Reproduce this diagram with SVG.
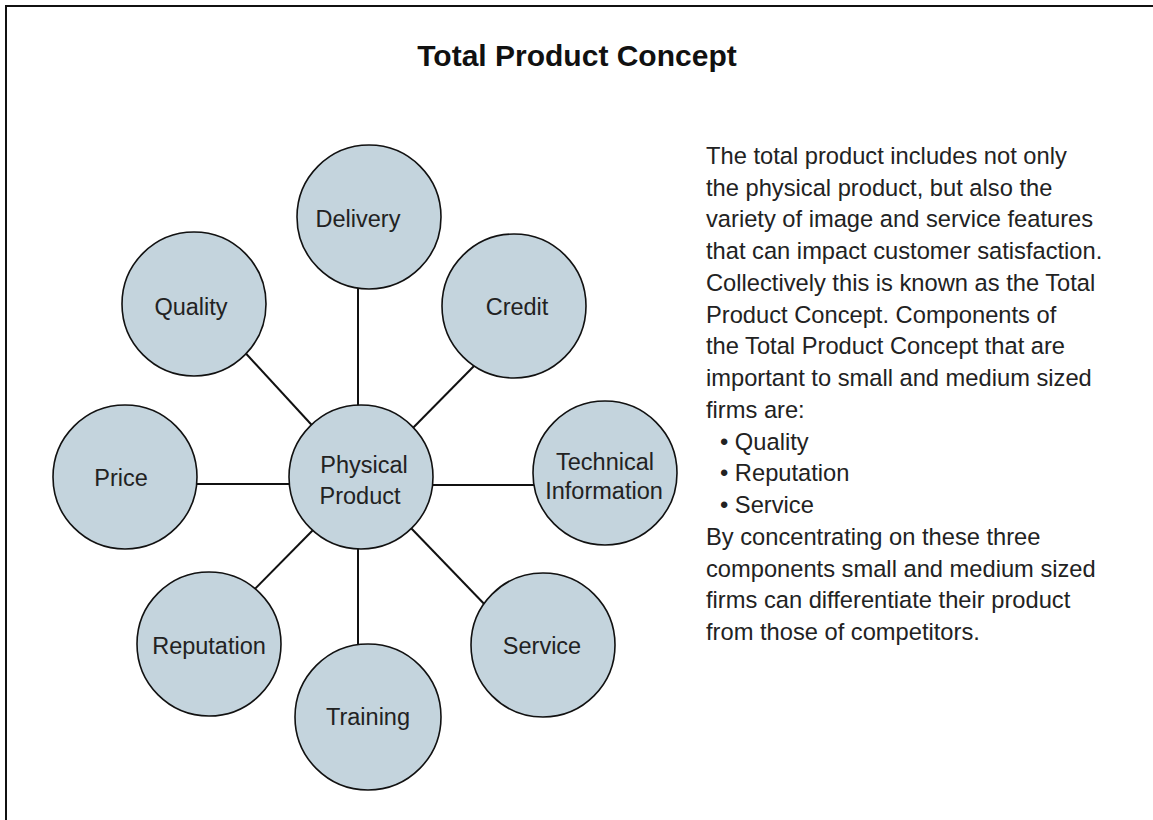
<svg xmlns="http://www.w3.org/2000/svg" width="1153" height="820" viewBox="0 0 1153 820">
<style>
.bg{fill:#fff}
.frame{fill:none;stroke:#111;stroke-width:2}
.node circle{fill:#c4d4dd;stroke:#111;stroke-width:1.6}
.node text,.para{font-family:"Liberation Sans",Arial,sans-serif;font-size:23.5px;fill:#222}
.para{font-size:23.7px}
.node text{text-anchor:middle}
.title{font-family:"Liberation Sans",Arial,sans-serif;font-size:30px;font-weight:bold;fill:#111;text-anchor:middle}
#connectors line{stroke:#111;stroke-width:2}
</style>
<rect class="bg" x="0" y="0" width="1153" height="820"/>
<path class="frame" d="M6,820 V6 H1153"/>
<text class="title" x="577" y="66">Total Product Concept</text>
<g id="connectors">
<line x1="358" y1="280" x2="358" y2="420"/>
<line x1="358" y1="535" x2="358" y2="655"/>
<line x1="185" y1="484" x2="300" y2="484"/>
<line x1="420" y1="485" x2="545" y2="485"/>
<line x1="240" y1="347" x2="320" y2="434"/>
<line x1="475" y1="365" x2="405" y2="436"/>
<line x1="250" y1="594" x2="315" y2="528"/>
<line x1="490" y1="610" x2="410" y2="527"/>
</g>
<g id="delivery" class="node"><circle cx="369" cy="217" r="72"/><text x="358" y="227">Delivery</text></g>
<g id="quality" class="node"><circle cx="194" cy="304" r="72"/><text x="191" y="315">Quality</text></g>
<g id="credit" class="node"><circle cx="514" cy="306" r="72"/><text x="517" y="315">Credit</text></g>
<g id="price" class="node"><circle cx="125" cy="477" r="72"/><text x="121" y="486">Price</text></g>
<g id="physical" class="node"><circle cx="361" cy="477" r="72"/><text x="364" y="473">Physical</text><text x="360" y="504">Product</text></g>
<g id="technical" class="node"><circle cx="605" cy="473" r="72"/><text x="605" y="470">Technical</text><text x="604" y="499">Information</text></g>
<g id="reputation" class="node"><circle cx="209" cy="644" r="72"/><text x="209" y="654">Reputation</text></g>
<g id="service" class="node"><circle cx="543" cy="645" r="72"/><text x="542" y="654">Service</text></g>
<g id="training" class="node"><circle cx="368" cy="717" r="73"/><text x="368" y="725">Training</text></g>
<g id="description">
<text class="para" x="706" y="164">The total product includes not only</text>
<text class="para" x="706" y="196">the physical product, but also the</text>
<text class="para" x="706" y="227">variety of image and service features</text>
<text class="para" x="706" y="259">that can impact customer satisfaction.</text>
<text class="para" x="706" y="291">Collectively this is known as the Total</text>
<text class="para" x="706" y="323">Product Concept. Components of</text>
<text class="para" x="706" y="354">the Total Product Concept that are</text>
<text class="para" x="706" y="386">important to small and medium sized</text>
<text class="para" x="706" y="418">firms are:</text>
<text class="para" x="720" y="450">• Quality</text>
<text class="para" x="720" y="481">• Reputation</text>
<text class="para" x="720" y="513">• Service</text>
<text class="para" x="706" y="545">By concentrating on these three</text>
<text class="para" x="706" y="577">components small and medium sized</text>
<text class="para" x="706" y="608">firms can differentiate their product</text>
<text class="para" x="706" y="640">from those of competitors.</text>
</g>
</svg>
